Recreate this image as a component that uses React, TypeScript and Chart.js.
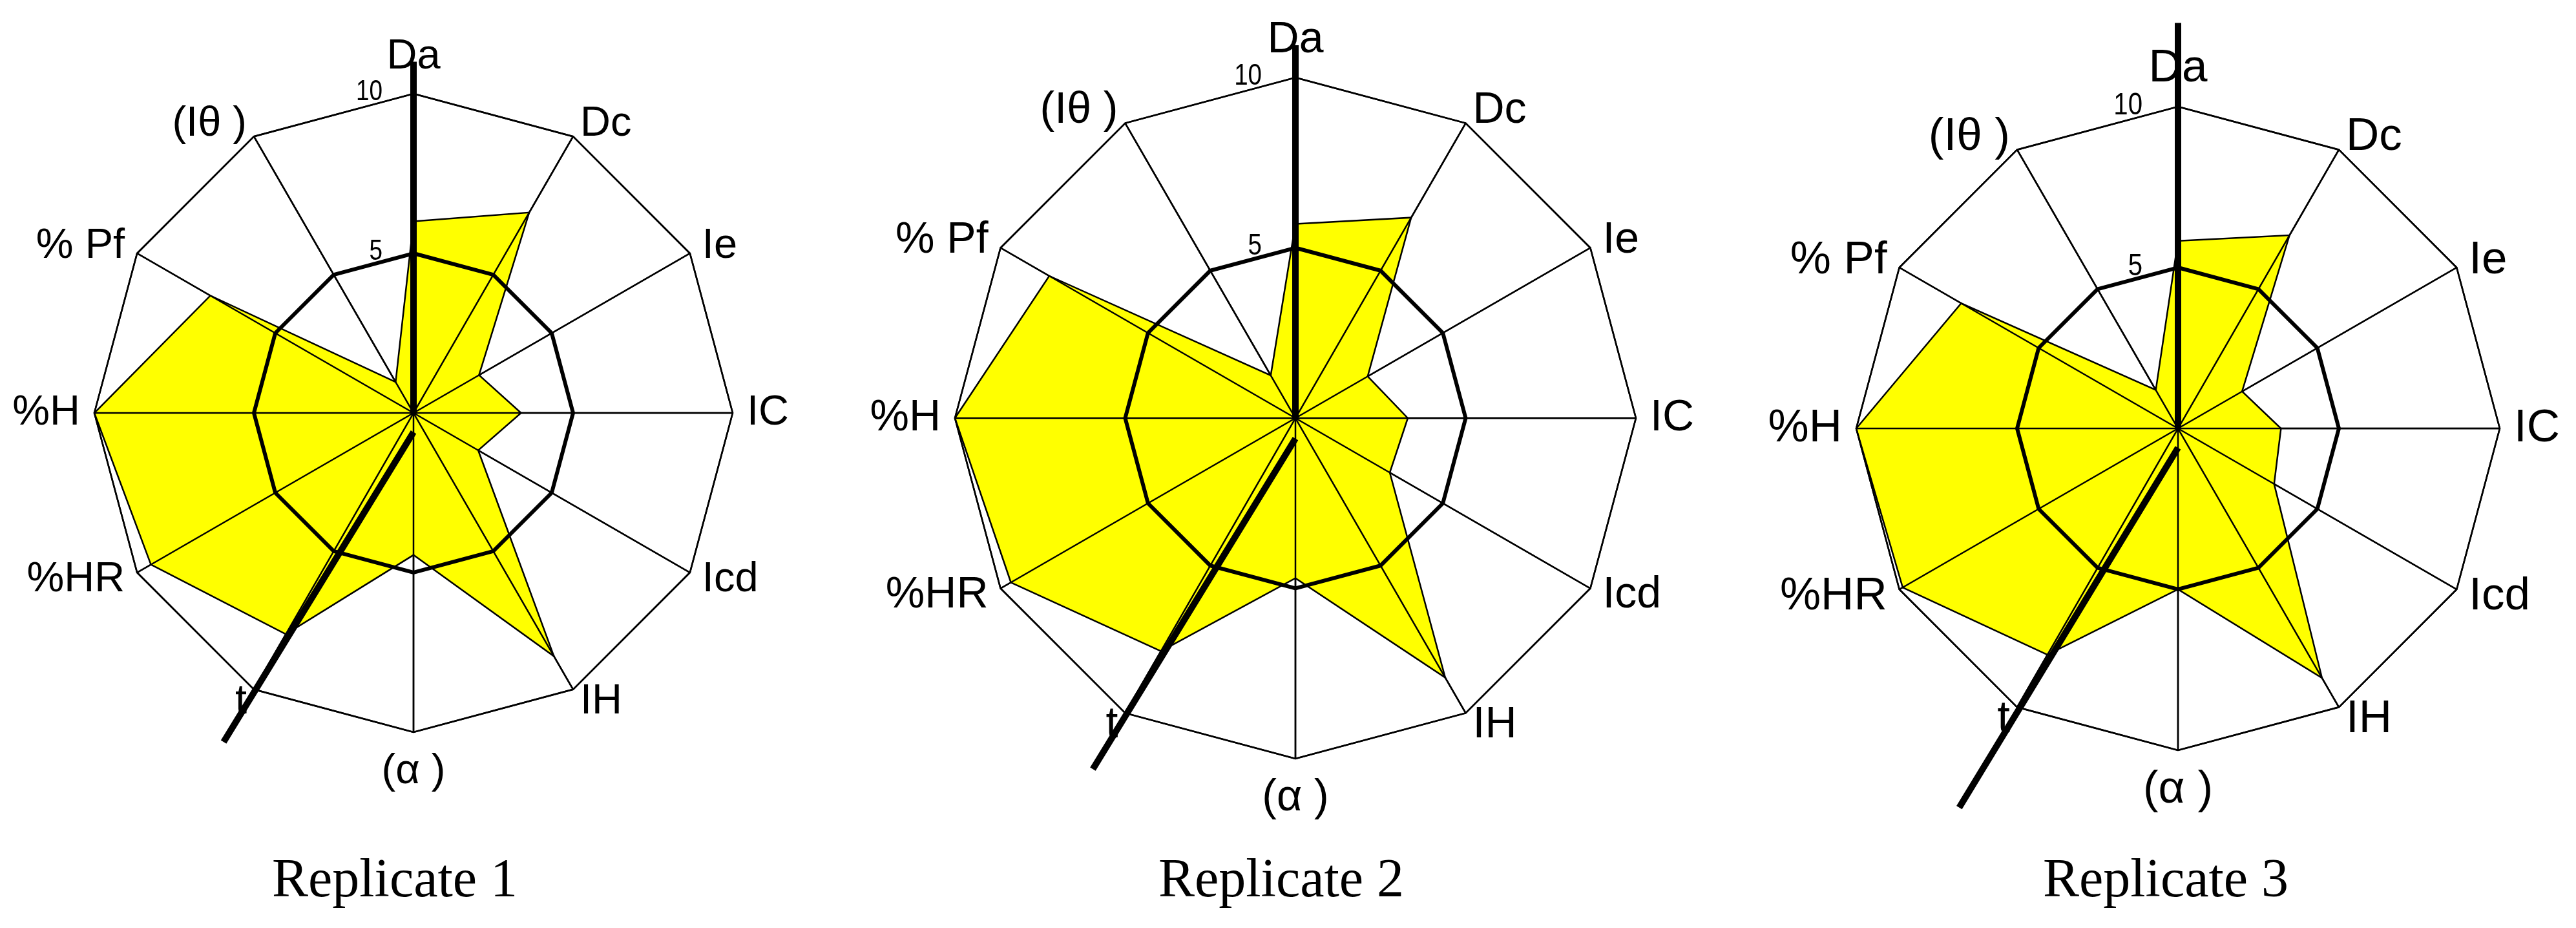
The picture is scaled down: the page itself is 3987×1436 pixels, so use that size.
import React, { useEffect, useRef } from 'react';
import { Chart, registerables } from 'chart.js';

Chart.register(...registerables);

// ---- Data ----
const categories = ['Da', 'Dc', 'Ie', 'IC', 'Icd', 'IH', '(α )', 't', '%HR', '%H', '% Pf', '(Iθ )'];
const tickValues = [0, 5, 10];

const replicate1 = [6.0, 7.25, 2.37, 3.37, 2.34, 8.8, 4.45, 8.0, 9.5, 10, 7.35, 1.12];
const replicate2 = [5.7, 6.8, 2.45, 3.3, 3.2, 8.8, 4.7, 7.9, 9.65, 10, 8.35, 1.45];
const replicate3 = [5.83, 6.93, 2.3, 3.2, 3.45, 8.95, 5.0, 8.12, 9.88, 10, 7.78, 1.38];

const referenceLevel = [5, 5, 5, 5, 5, 5, 5, 5, 5, 5, 5, 5];

const spikes1 = [11.0, 0, null, null, null, null, 0.6, 11.9, null, null, null, null];
const spikes2 = [10.95, 0, null, null, null, null, 0.6, 11.9, null, null, null, null];
const spikes3 = [12.6, 0, null, null, null, null, 0.6, 13.6, null, null, null, null];

const captions = ['Replicate 1', 'Replicate 2', 'Replicate 3'];

// ---- Layout (positions / sizes) ----
const PAD = 240;
const panels = [
  { values: replicate1, spikes: spikes1, cx: 640, cy: 639, r: 494, labelFont: 65, tickFont: 45, tickOff: 48, capX: 611 },
  { values: replicate2, spikes: spikes2, cx: 2005, cy: 647, r: 527, labelFont: 68, tickFont: 47, tickOff: 52, capX: 1983 },
  { values: replicate3, spikes: spikes3, cx: 3371, cy: 663, r: 498, labelFont: 71, tickFont: 49, tickOff: 55, capX: 3352 },
];

type Panel = typeof panels[number];

function RadarPanel({ p }: { p: Panel }) {
  const ref = useRef<HTMLCanvasElement | null>(null);
  const size = 2 * p.r + 2 * PAD;

  useEffect(() => {
    if (!ref.current) return;
    const labelPlugin = {
      id: 'customLabels',
      afterDatasetDraw(chart: any, args: any) {
        if (args.index === 2) {
          chart.scales.r.drawGrid();
        }
      },
      beforeDatasetsDraw(chart: any) {
        const ctx = chart.ctx;
        const scale = chart.scales.r;
        const rad = scale.drawingArea;
        ctx.save();
        ctx.fillStyle = '#000';
        ctx.font = `${p.labelFont}px "Liberation Sans", Arial, sans-serif`;
        categories.forEach((lab, i) => {
          const ang = i * 30;
          let d = rad + 22;
          let align: CanvasTextAlign = ang < 180 ? 'left' : 'right';
          let base: CanvasTextBaseline = 'middle';
          if (ang === 0) {
            d = rad + 39;
            align = 'center';
            base = 'alphabetic';
          } else if (ang === 180) {
            d = rad + 61;
            align = 'center';
          }
          const pt = scale.getPointPosition(i, d);
          ctx.textAlign = align;
          ctx.textBaseline = base;
          ctx.fillText(lab, pt.x, pt.y);
        });
        // tick labels
        ctx.font = `${p.tickFont}px "Liberation Sans", Arial, sans-serif`;
        ctx.textAlign = 'right';
        ctx.textBaseline = 'middle';
        tickValues.forEach((v) => {
          const pt = scale.getPointPosition(0, scale.getDistanceFromCenterForValue(v));
          ctx.save();
          ctx.translate(pt.x - p.tickOff, pt.y - 2);
          ctx.scale(0.82, 1);
          ctx.fillText(String(v), 0, 0);
          ctx.restore();
        });
        ctx.restore();
      },
    };

    const chart = new Chart(ref.current, {
      type: 'radar',
      data: {
        labels: categories,
        datasets: [
          {
            label: 'limits',
            data: p.spikes as any,
            borderColor: '#000',
            borderWidth: 10,
            borderCapStyle: 'butt',
            fill: false,
            pointRadius: 0,
            spanGaps: false,
            clip: false as any,
          },
          {
            label: 'reference',
            data: referenceLevel,
            borderColor: '#000',
            borderWidth: 6,
            fill: false,
            pointRadius: 0,
          },
          {
            label: 'replicate',
            data: p.values,
            borderColor: '#000',
            borderWidth: 2.5,
            backgroundColor: '#FFFF00',
            fill: true,
            pointRadius: 0,
          },
        ],
      },
      options: {
        responsive: false,
        animation: false,
        devicePixelRatio: 1,
        layout: { padding: PAD },
        plugins: {
          legend: { display: false },
          tooltip: { enabled: false },
        },
        elements: { line: { tension: 0 } },
        scales: {
          r: {
            min: 0,
            max: 10,
            startAngle: 0,
            ticks: { display: false, stepSize: 5 },
            pointLabels: { display: false },
            grid: { color: '#000', lineWidth: 2.5, circular: false },
            angleLines: { color: '#000', lineWidth: 2.5 },
          },
        },
      },
      plugins: [labelPlugin],
    } as any);
    return () => chart.destroy();
  }, []);

  return (
    <canvas
      ref={ref}
      width={size}
      height={size}
      style={{
        position: 'absolute',
        left: p.cx - p.r - PAD,
        top: p.cy - p.r - PAD,
        width: size,
        height: size,
      }}
    />
  );
}

export default function App() {
  return (
    <div
      style={{
        position: 'absolute',
        left: 0,
        top: 0,
        width: 3987,
        height: 1436,
        overflow: 'hidden',
        background: '#fff',
      }}
    >
      {panels.map((p, i) => (
        <RadarPanel key={i} p={p} />
      ))}
      {panels.map((p, i) => (
        <div
          key={'c' + i}
          style={{
            position: 'absolute',
            left: p.capX - 300,
            width: 600,
            top: 1317,
            textAlign: 'center',
            fontFamily: '"Liberation Serif", "Times New Roman", serif',
            fontSize: 84,
            lineHeight: 1,
            color: '#000',
          }}
        >
          {captions[i]}
        </div>
      ))}
    </div>
  );
}
